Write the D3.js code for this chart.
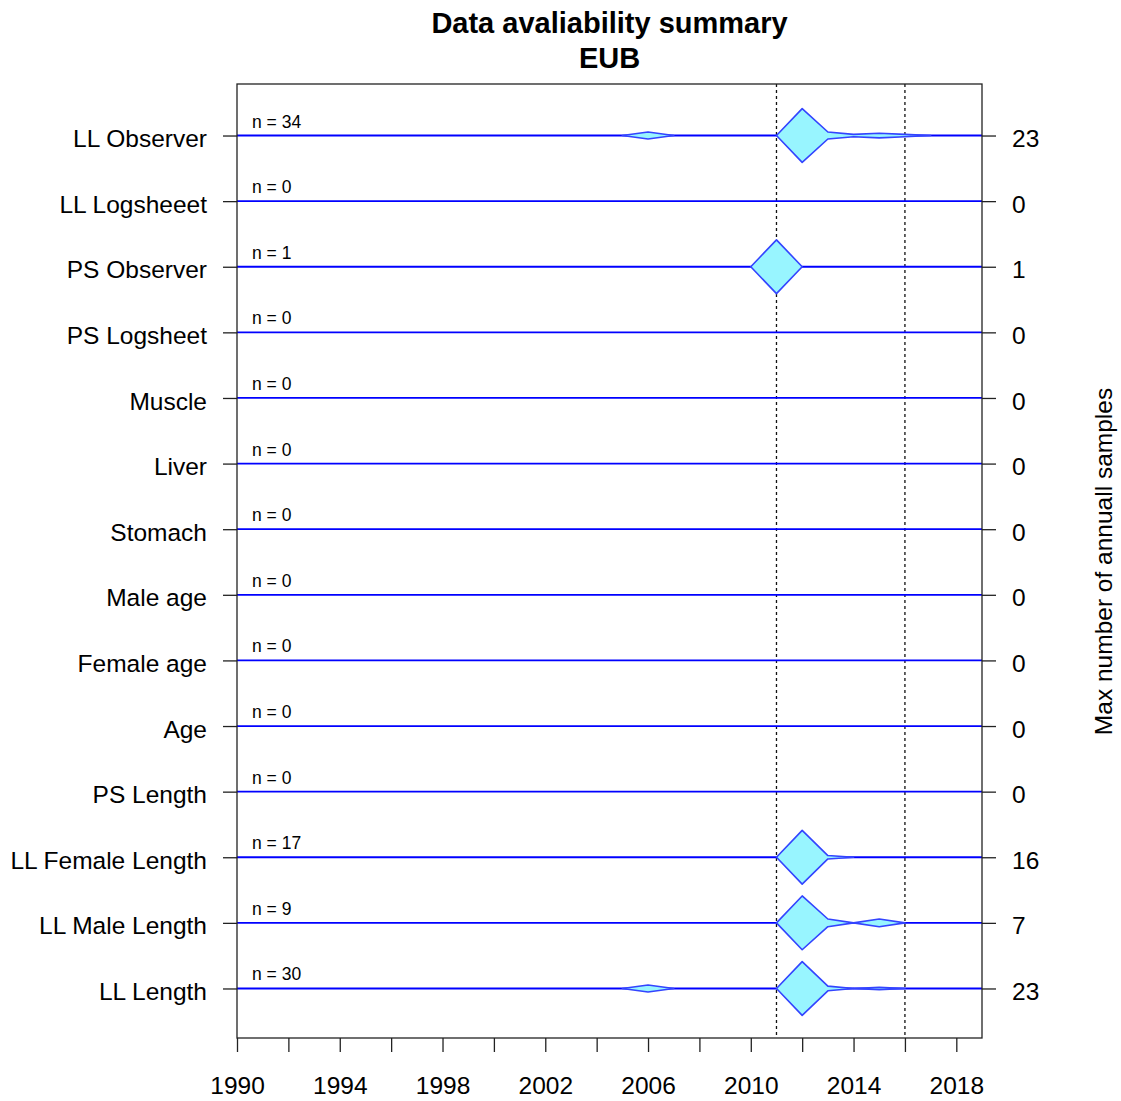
<!DOCTYPE html>
<html>
<head>
<meta charset="utf-8">
<script src="https://cdn.jsdelivr.net/npm/d3@7"></script>
<style>
    body { margin: 0; background: #ffffff; }
    text { font-family: "Liberation Sans", Arial, sans-serif; fill: #000000; }
</style>
</head>
<body>
<div id="chart"></div>
<script>

// rows, top to bottom
var categories = ["LL Observer", "LL Logsheeet", "PS Observer", "PS Logsheet", "Muscle", "Liver",
    "Stomach", "Male age", "Female age", "Age", "PS Length", "LL Female Length", "LL Male Length", "LL Length"];

var nRecords = [34, 0, 1, 0, 0, 0, 0, 0, 0, 0, 0, 17, 9, 30];

// samples per year, one list per row (years and counts side by side)
var sampleYears = [
    [2006, 2012, 2013, 2014, 2015, 2016],
    [], [2011], [], [], [], [], [], [], [], [],
    [2012, 2013],
    [2012, 2013, 2015],
    [2006, 2012, 2013, 2015]
];
var sampleCounts = [
    [3, 23, 3, 1, 2, 1],
    [], [1], [], [], [], [], [], [], [], [],
    [16, 1],
    [7, 1, 1],
    [3, 23, 2, 1]
];

var yearTicks = d3.range(1990, 2020, 2);
var markYears = [2011, 2016];

var title = ["Data avaliability summary", "EUB"];

// ---- drawing ----
var vis = {};
vis.width = 1121;
vis.height = 1101;
vis.margin = {top: 84, right: 139, bottom: 62, left: 237};
vis.axisFont = "24.5px";

vis.svg = d3.select("#chart").append("svg")
    .attr("width", vis.width)
    .attr("height", vis.height);

vis.x = d3.scaleLinear()
    .domain([1990, 2019])
    .range([vis.margin.left, vis.width - vis.margin.right]);

vis.y = d3.scalePoint()
    .domain(categories)
    .range([vis.margin.top + 1, vis.height - vis.margin.bottom])
    .padding(0.77);

vis.halfH = vis.y.step() * 0.41;

// reference lines
vis.svg.selectAll(".mark")
    .data(markYears)
    .enter().append("line")
    .attr("class", "mark")
    .attr("x1", function(d) { return vis.x(d); })
    .attr("x2", function(d) { return vis.x(d); })
    .attr("y1", vis.margin.top)
    .attr("y2", vis.height - vis.margin.bottom - 1)
    .style("stroke", "#111")
    .style("stroke-width", 1.3)
    .style("stroke-dasharray", "3,3");

// row lines
vis.svg.selectAll(".rowline")
    .data(categories)
    .enter().append("line")
    .attr("class", "rowline")
    .attr("x1", vis.x.range()[0])
    .attr("x2", vis.x.range()[1])
    .attr("y1", function(d) { return vis.y(d); })
    .attr("y2", function(d) { return vis.y(d); })
    .style("stroke", "#0000ff")
    .style("stroke-width", 1.8);

// kite shapes: width follows the yearly count, scaled to each row's max
categories.forEach(function(cat, i) {
    var years = sampleYears[i], counts = sampleCounts[i];
    if (!years.length) return;
    var maxC = d3.max(counts);
    var lookup = {};
    years.forEach(function(yr, j) { lookup[yr] = counts[j]; });

    // group consecutive years with samples into runs, padded with a zero year each side
    var runs = [], cur = null;
    d3.range(1990, 2020).forEach(function(yr) {
        var c = lookup[yr] || 0;
        if (c > 0) {
            if (!cur) { cur = [{year: yr - 1, c: 0}]; runs.push(cur); }
            cur.push({year: yr, c: c});
        } else if (cur) {
            cur.push({year: yr, c: 0});
            cur = null;
        }
    });

    var cy = vis.y(cat);
    var area = d3.area()
        .x(function(d) { return vis.x(d.year); })
        .y0(function(d) { return cy + d.c / maxC * vis.halfH; })
        .y1(function(d) { return cy - d.c / maxC * vis.halfH; });

    vis.svg.selectAll(".kite" + i)
        .data(runs)
        .enter().append("path")
        .attr("class", "kite" + i)
        .attr("d", area)
        .style("fill", "#98f5ff")
        .style("stroke", "#3344ff")
        .style("stroke-width", 1.6)
        .style("stroke-linejoin", "round");
});

// n labels
vis.svg.selectAll(".nlabel")
    .data(categories)
    .enter().append("text")
    .attr("class", "nlabel")
    .attr("x", vis.x(1990) + 15)
    .attr("y", function(d) { return vis.y(d) - 8; })
    .style("font-size", "17.5px")
    .text(function(d, i) { return "n = " + nRecords[i]; });

// frame
vis.svg.append("rect")
    .attr("x", vis.x.range()[0])
    .attr("y", vis.margin.top)
    .attr("width", vis.x.range()[1] - vis.x.range()[0])
    .attr("height", vis.height - vis.margin.bottom - 1 - vis.margin.top)
    .style("fill", "none")
    .style("stroke", "#222")
    .style("stroke-width", 1.3);

// bottom axis
vis.xAxis = d3.axisBottom(vis.x)
    .tickValues(yearTicks)
    .tickSize(14)
    .tickPadding(25)
    .tickFormat(function(d) { return (d - 1990) % 4 === 0 ? d : ""; });

vis.svg.append("g")
    .attr("transform", "translate(0," + (vis.height - vis.margin.bottom - 1) + ")")
    .call(vis.xAxis)
    .call(function(g) { g.select(".domain").remove(); })
    .call(function(g) {
        g.selectAll("line").style("stroke", "#222").style("stroke-width", 1.3);
        g.selectAll("text").style("font-size", vis.axisFont).style("font-family", "Liberation Sans, Arial, sans-serif").attr("fill", "#000");
    });

// left axis
vis.yAxis = d3.axisLeft(vis.y)
    .tickSize(14)
    .tickPadding(16);

vis.svg.append("g")
    .attr("transform", "translate(" + vis.x.range()[0] + ",0)")
    .call(vis.yAxis)
    .call(function(g) { g.select(".domain").remove(); })
    .call(function(g) {
        g.selectAll("line").style("stroke", "#222").style("stroke-width", 1.3);
        g.selectAll("text").style("font-size", vis.axisFont).style("font-family", "Liberation Sans, Arial, sans-serif").attr("fill", "#000").attr("dy", "0.45em");
    });

// right axis: max annual samples per row
vis.yAxisRight = d3.axisRight(vis.y)
    .tickSize(14)
    .tickPadding(16)
    .tickFormat(function(d) {
        var i = categories.indexOf(d);
        return sampleCounts[i].length ? d3.max(sampleCounts[i]) : 0;
    });

vis.svg.append("g")
    .attr("transform", "translate(" + vis.x.range()[1] + ",0)")
    .call(vis.yAxisRight)
    .call(function(g) { g.select(".domain").remove(); })
    .call(function(g) {
        g.selectAll("line").style("stroke", "#222").style("stroke-width", 1.3);
        g.selectAll("text").style("font-size", vis.axisFont).style("font-family", "Liberation Sans, Arial, sans-serif").attr("fill", "#000").attr("dy", "0.45em");
    });

vis.svg.append("text")
    .attr("transform", "translate(1112," + ((vis.margin.top + vis.height - vis.margin.bottom) / 2) + ") rotate(-90)")
    .attr("text-anchor", "middle")
    .style("font-size", "24.5px")
    .text("Max number of annuall samples");

// title
var midX = (vis.x.range()[0] + vis.x.range()[1]) / 2;
vis.svg.selectAll(".title")
    .data(title)
    .enter().append("text")
    .attr("class", "title")
    .attr("x", midX)
    .attr("y", function(d, i) { return 33 + i * 35; })
    .attr("text-anchor", "middle")
    .style("font-size", "29px")
    .style("font-weight", "bold")
    .text(function(d) { return d; });

</script>
</body>
</html>
